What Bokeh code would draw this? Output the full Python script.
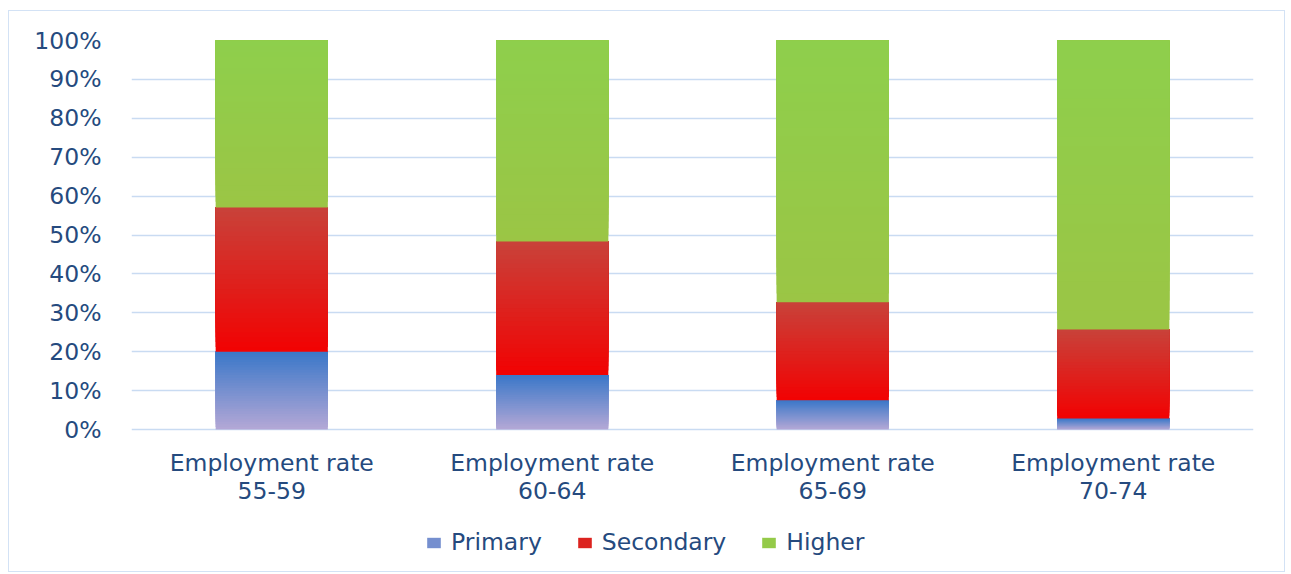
from bokeh.plotting import figure
from bokeh.layouts import column
from bokeh.models import (ColumnDataSource, Legend, LegendItem, FixedTicker,
                          NumeralTickFormatter, Range1d)
from bokeh.core.properties import value
from bokeh.embed import file_html
from bokeh.resources import INLINE

categories = ["Employment rate\n55-59", "Employment rate\n60-64",
              "Employment rate\n65-69", "Employment rate\n70-74"]
series_names = ["Primary", "Secondary", "Higher"]
primary = [0.200, 0.140, 0.075, 0.028]
secondary = [0.371, 0.343, 0.252, 0.229]
higher = [0.429, 0.517, 0.673, 0.743]
y_ticks = [0.0, 0.1, 0.2, 0.3, 0.4, 0.5, 0.6, 0.7, 0.8, 0.9, 1.0]

# gradient styling (bottom colour, top colour) for each series
grad = {
    "Primary": ("#b4a8d6", "#3a77c8"),
    "Secondary": ("#f20202", "#c8423a"),
    "Higher": ("#9bc545", "#8ecf4c"),
}
TEXT = "#254a7e"
GRID = "#c9dbf2"
FONT = "DejaVu Sans"
FSIZE = "23.5px"

PX_PER_UNIT = 389.0
Y_START = -136.0 / PX_PER_UNIT

p = figure(x_range=categories, y_range=Range1d(Y_START, 1.0), width=1275, height=560,
           output_backend="svg", toolbar_location=None, x_axis_location=None,
           min_border_left=122, min_border_right=31, min_border_top=29,
           min_border_bottom=6)
p.outline_line_color = None
p.xgrid.grid_line_color = None
p.ygrid.grid_line_color = GRID
p.ygrid.grid_line_width = 1.3
p.x_range.range_padding = 0.0

ax = p.yaxis[0]
ax.ticker = FixedTicker(ticks=y_ticks)
ax.formatter = NumeralTickFormatter(format="0%")
ax.axis_line_color = None
ax.major_tick_line_color = None
ax.minor_tick_line_color = None
ax.major_tick_out = 0
ax.major_tick_in = 0
ax.major_label_text_color = TEXT
ax.major_label_text_font = FONT
ax.major_label_text_font_size = FSIZE
ax.major_label_standoff = 30

N = 30
values = {"Primary": primary, "Secondary": secondary, "Higher": higher}


def mix(c1, c2, t):
    a = [int(c1[i:i + 2], 16) for i in (1, 3, 5)]
    b = [int(c2[i:i + 2], 16) for i in (1, 3, 5)]
    return "#%02x%02x%02x" % tuple(round(a[j] + (b[j] - a[j]) * t) for j in range(3))


# each segment is painted as overlapping layers (bottom up) to form a smooth gradient
base = [0.0] * len(categories)
renderers = {}
for name in series_names:
    vals = values[name]
    xs, bots, tops, cols = [], [], [], []
    c_bot, c_top = grad[name]
    for k in range(N):
        for i, cat in enumerate(categories):
            b0 = base[i]
            h = vals[i]
            xs.append(cat)
            bots.append(b0 + h * k / N)
            tops.append(b0 + h)
            cols.append(mix(c_bot, c_top, (k + 0.5) / N))
    for i in range(len(categories)):
        base[i] += vals[i]
    src = ColumnDataSource(dict(x=xs, bottom=bots, top=tops, color=cols))
    r = p.vbar(x="x", bottom="bottom", top="top", width=0.4, source=src,
               fill_color="color", line_color=None)
    renderers[name] = r

# category labels (two lines, drawn under the bars)
line1 = [c.split("\n")[0] for c in categories]
line2 = [c.split("\n")[1] for c in categories]
p.text(x=categories, y=[-33.0 / PX_PER_UNIT] * len(categories), text=line1,
       text_align="center", text_baseline="middle", text_color=TEXT,
       text_font=value(FONT), text_font_size=FSIZE)
p.text(x=categories, y=[-61.0 / PX_PER_UNIT] * len(categories), text=line2,
       text_align="center", text_baseline="middle", text_color=TEXT,
       text_font=value(FONT), text_font_size=FSIZE)

items = [LegendItem(label=n, renderers=[renderers[n]], index=(N // 2) * len(categories))
         for n in series_names]
legend = Legend(items=items, orientation="horizontal", location=(294, 9),
                label_text_font=FONT, label_text_font_size=FSIZE,
                label_text_color=TEXT, glyph_width=17, glyph_height=13,
                spacing=34, label_standoff=9, border_line_color=None,
                background_fill_alpha=0, margin=0, padding=0)
p.add_layout(legend)

layout = column(p, margin=(10, 0, 0, 8), styles={"border": "1px solid #d3e2f5"})
open("out.html", "w").write(file_html(layout, INLINE))
